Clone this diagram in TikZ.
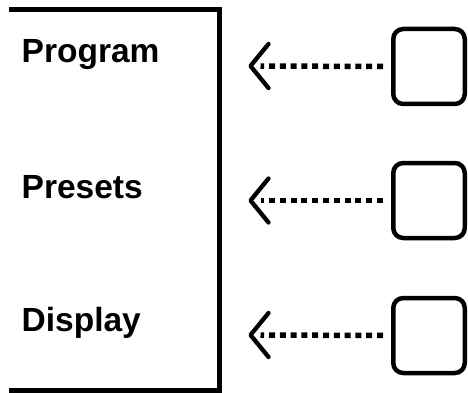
\documentclass[tikz,border=0pt]{standalone}
\usepackage{fontspec}
\setmainfont{Liberation Sans}
\begin{document}
\begin{tikzpicture}[x=1pt,y=-1pt,
  label/.style={font=\fontsize{33.5}{38}\selectfont\bfseries, anchor=base west, inner sep=0pt},
  keybox/.style={draw=black, line width=4.5pt, rounded corners=10pt, minimum width=71.5pt, minimum height=75pt, inner sep=0pt},
  dotline/.style={line width=5.5pt, dash pattern=on 6pt off 4.8pt, shorten <=8pt, shorten >=10pt},
  chev/.style={line width=4.3pt, line cap=round, line join=round}]
\useasboundingbox (0,0) rectangle (468,393);
% frame
\draw[line width=5pt] (9,10) -- (219.5,10) -- (219.5,390) -- (9,390);
% labels
\node[label] (l1) at (21.5,63) {Program};
\node[label] (l2) at (21.5,198) {Presets};
\node[label] (l3) at (21.5,331.5) {Display};
% boxes
\node[keybox] (b1) at (429,66.5) {};
\node[keybox] (b2) at (429,200.5) {};
\node[keybox] (b3) at (429,335.5) {};
% arrow tips
\coordinate (t1) at (250.5,66);
\coordinate (t2) at (250.5,200.5);
\coordinate (t3) at (250.5,335);
\foreach \i in {1,2,3}{
  \draw[dotline] (b\i.west) -- (t\i);
  \draw[chev] ([shift={(18,-22)}]t\i) -- (t\i) -- ([shift={(18,22)}]t\i);
}
\end{tikzpicture}
\end{document}
